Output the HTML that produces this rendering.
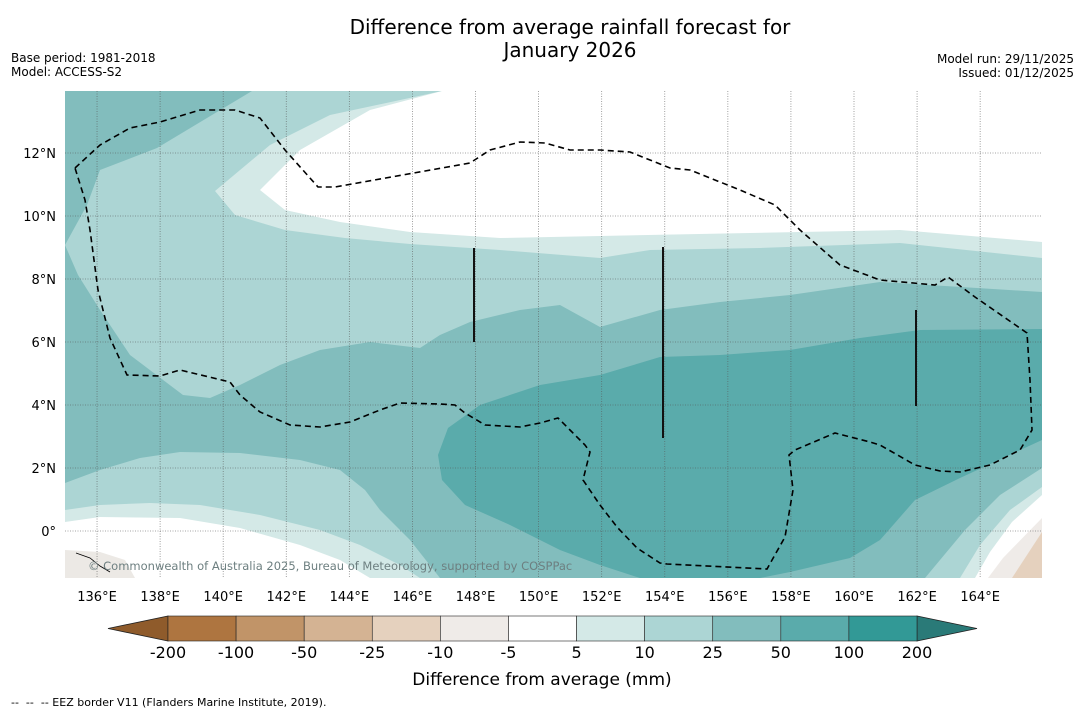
<!DOCTYPE html>
<html><head><meta charset="utf-8">
<style>
body{margin:0;background:#fff;width:1085px;height:713px;overflow:hidden;font-family:"Liberation Sans","DejaVu Sans",sans-serif}
svg text{font-family:"DejaVu Sans","Liberation Sans",sans-serif}
</style></head>
<body>
<svg id="chart" width="1085" height="713" viewBox="0 0 1085 713" xmlns="http://www.w3.org/2000/svg">
<text x="570" y="34" font-size="20" text-anchor="middle">Difference from average rainfall forecast for</text>
<text x="570" y="57" font-size="20" text-anchor="middle">January 2026</text>
<text x="11" y="62" font-size="12">Base period: 1981-2018</text>
<text x="11" y="76" font-size="12">Model: ACCESS-S2</text>
<text x="1074" y="63" font-size="12" text-anchor="end">Model run: 29/11/2025</text>
<text x="1074" y="77" font-size="12" text-anchor="end">Issued: 01/12/2025</text>
<defs><clipPath id="mapclip"><rect x="65" y="91" width="977" height="487"/></clipPath></defs>
<g clip-path="url(#mapclip)">
<rect x="65" y="91" width="977" height="487" fill="#82bdbd"/>
<polygon fill="#acd5d4" points="252,91 157,148 100,170 87,205 65,245 78,275 100,310 130,355 183,395 210,398 240,385 280,365 320,350 370,342 420,348 440,335 470,322 520,310 560,305 600,327 660,310 720,302 790,295 880,282 1042,292 1042,91"/>
<polygon fill="#d4e9e7" points="442,91 330,115 270,145 215,191 235,215 285,230 345,238 410,244 500,250 600,258 650,250 760,248 900,243 1042,258 1042,91"/>
<polygon fill="#ffffff" points="442,91 370,110 300,150 260,190 285,210 340,222 410,232 500,238 600,236 750,233 900,230 1042,242 1042,91"/>
<polygon fill="#5aabab" points="480,405 540,385 600,375 660,357 720,355 790,350 860,338 920,330 1042,329 1042,440 960,478 915,500 880,540 850,558 790,572 760,578 640,578 600,565 560,550 510,525 465,505 442,480 438,455 448,428"/>
<polygon fill="#acd5d4" points="65,483 100,470 140,458 180,452 240,453 300,460 340,470 365,490 380,510 410,540 440,578 65,578"/>
<polygon fill="#d4e9e7" points="65,510 100,505 150,503 200,505 260,515 320,530 360,545 400,565 420,578 65,578"/>
<polygon fill="#ffffff" points="65,522 100,517 180,518 240,528 300,545 340,560 370,578 65,578"/>
<polygon fill="#acd5d4" points="1042,468 1000,495 965,530 940,560 925,578 1042,578"/>
<polygon fill="#d4e9e7" points="1042,487 1010,510 980,545 960,578 1042,578"/>
<polygon fill="#ffffff" points="1042,495 1012,522 990,552 975,578 1042,578"/>
<polygon fill="#efebe8" points="1042,518 1003,558 988,578 1042,578"/>
<polygon fill="#e5d1be" points="1042,532 1012,578 1042,578"/>
<path d="M65,550 L100,552 L125,560 L135,578 L65,578 Z" fill="#ece9e5"/>
<path d="M76,553 L90,558 L100,566 L110,572" stroke="#000" fill="none" stroke-width="0.8"/>
<g id="grid"></g>
<polyline fill="none" stroke="#000" stroke-width="1.6" stroke-dasharray="6,4" points="75,168 100,145 130,128 160,122 200,110 235,110 260,118 285,150 318,187 335,187 470,163 490,150 520,142 545,143 570,150 600,150 630,152 670,168 690,170 740,190 775,205 800,230 840,265 880,280 935,285 948,277 975,297 1027,333 1030,380 1032,430 1020,450 990,465 960,472 940,471 915,465 880,445 870,442 835,433 795,450 789,455 793,490 785,537 767,569 667,564 660,563 637,548 617,527 600,505 583,480 590,452 585,445 570,430 558,418 540,423 520,427 485,425 465,413 455,405 440,404 400,403 380,410 350,422 320,427 290,425 260,412 240,395 230,382 180,370 160,376 127,375 110,338 98,290 90,230 85,200 75,168"/>
<line x1="474" y1="248" x2="474" y2="342" stroke="#111" stroke-width="2"/>
<line x1="663" y1="247" x2="663" y2="438" stroke="#111" stroke-width="2"/>
<line x1="916" y1="310" x2="916" y2="406" stroke="#111" stroke-width="2"/>
<text x="88" y="570" font-size="11.5" fill="#6d7f80">© Commonwealth of Australia 2025, Bureau of Meteorology, supported by COSPPac</text>
</g>
<g id="axes"></g>
<g id="cbar"></g>
<text x="542" y="685" font-size="17" text-anchor="middle">Difference from average (mm)</text>
<text x="11" y="706" font-size="11">--&#160;&#160;--&#160;&#160;-- EEZ border V11 (Flanders Marine Institute, 2019).</text>
</svg>
<script>
const lonTicks=[136,138,140,142,144,146,148,150,152,154,156,158,160,162,164];
const latTicks=[0,2,4,6,8,10,12];
const levels=["-200","-100","-50","-25","-10","-5","5","10","25","50","100","200"];
const levelColors=["#ae7540","#c19468","#d4b393","#e5d1be","#efebe8","#ffffff","#d4e9e7","#acd5d4","#82bdbd","#5aabab","#329996"];
const NS="http://www.w3.org/2000/svg";
function xLon(l){return 65.5+(l-135)*31.54;}
function yLat(l){return 531-l*31.5;}
function mk(t,a,p){const e=document.createElementNS(NS,t);for(const k in a)e.setAttribute(k,a[k]);p.appendChild(e);return e;}
const grid=document.getElementById('grid'),axes=document.getElementById('axes'),cb=document.getElementById('cbar');
lonTicks.forEach(l=>{
 const x=xLon(l);
 const g=mk('line',{x1:x,y1:91,x2:x,y2:578,stroke:'#555','stroke-width':0.8,'stroke-dasharray':'1,1.5','stroke-opacity':0.7},grid);
 
 
 const t=mk('text',{x:x,y:601,'font-size':13,'text-anchor':'middle'},axes);t.textContent=l+'°E';
 
 
});
latTicks.forEach(l=>{
 const y=yLat(l);
 const g=mk('line',{x1:65,y1:y,x2:1042,y2:y,stroke:'#555','stroke-width':0.8,'stroke-dasharray':'1,1.5','stroke-opacity':0.7},grid);
 
 
 const t=mk('text',{x:56,y:y+5,'font-size':13,'text-anchor':'end'},axes);t.textContent=l===0?'0°':l+'°N';
 
 
});
const cx0=168,cx1=917,cy=616,ch=25,bw=(cx1-cx0)/levelColors.length;
const lt=mk('polygon',{points:`${cx0},${cy} ${cx0},${cy+ch} 108,${cy+ch/2}`,fill:'#8f5b2b',stroke:'#222','stroke-width':0.8},cb);


const rt=mk('polygon',{points:`${cx1},${cy} ${cx1},${cy+ch} 977,${cy+ch/2}`,fill:'#2a7a78',stroke:'#222','stroke-width':0.8},cb);


levelColors.forEach((c,i)=>{
 const r=mk('rect',{x:cx0+i*bw,y:cy,width:bw,height:ch,fill:c,stroke:'#222','stroke-width':0.6},cb);
 
 
});
levels.forEach((v,i)=>{
 const t=mk('text',{x:cx0+i*bw,y:658,'font-size':16,'text-anchor':'middle'},cb);t.textContent=v;
 
 
});
</script>
</body></html>
